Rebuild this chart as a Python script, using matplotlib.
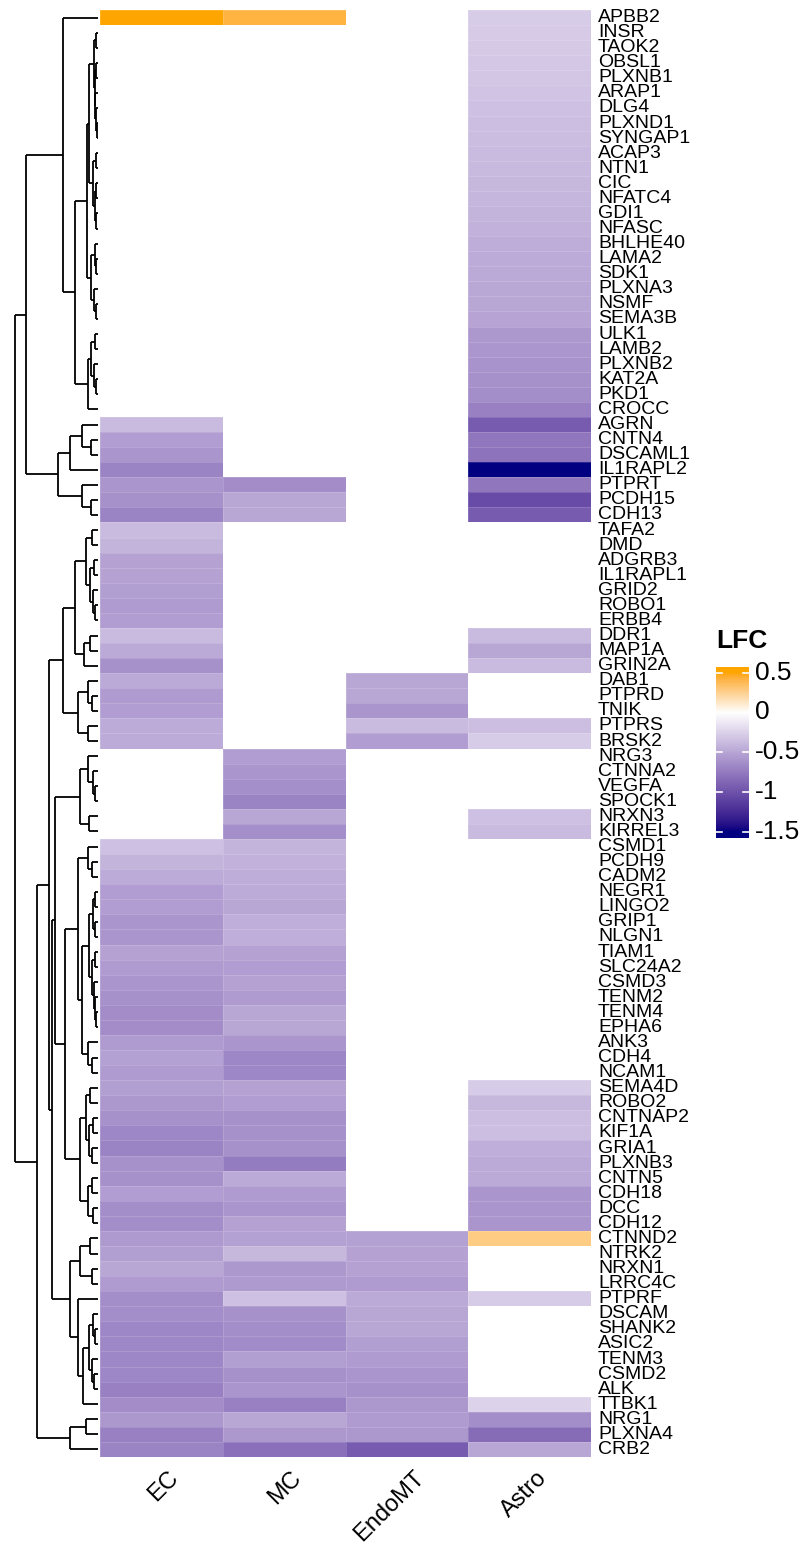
import numpy as np
import matplotlib
matplotlib.use("Agg")
import matplotlib.pyplot as plt
from matplotlib.colors import ListedColormap, Normalize

nan = np.nan

genes = ["APBB2", "INSR", "TAOK2", "OBSL1", "PLXNB1", "ARAP1", "DLG4", "PLXND1",
         "SYNGAP1", "ACAP3", "NTN1", "CIC", "NFATC4", "GDI1", "NFASC", "BHLHE40",
         "LAMA2", "SDK1", "PLXNA3", "NSMF", "SEMA3B", "ULK1", "LAMB2", "PLXNB2",
         "KAT2A", "PKD1", "CROCC", "AGRN", "CNTN4", "DSCAML1", "IL1RAPL2", "PTPRT",
         "PCDH15", "CDH13", "TAFA2", "DMD", "ADGRB3", "IL1RAPL1", "GRID2", "ROBO1",
         "ERBB4", "DDR1", "MAP1A", "GRIN2A", "DAB1", "PTPRD", "TNIK", "PTPRS",
         "BRSK2", "NRG3", "CTNNA2", "VEGFA", "SPOCK1", "NRXN3", "KIRREL3", "CSMD1",
         "PCDH9", "CADM2", "NEGR1", "LINGO2", "GRIP1", "NLGN1", "TIAM1", "SLC24A2",
         "CSMD3", "TENM2", "TENM4", "EPHA6", "ANK3", "CDH4", "NCAM1", "SEMA4D",
         "ROBO2", "CNTNAP2", "KIF1A", "GRIA1", "PLXNB3", "CNTN5", "CDH18", "DCC",
         "CDH12", "CTNND2", "NTRK2", "NRXN1", "LRRC4C", "PTPRF", "DSCAM", "SHANK2",
         "ASIC2", "TENM3", "CSMD2", "ALK", "TTBK1", "NRG1", "PLXNA4", "CRB2"]

cell_types = ["EC", "MC", "EndoMT", "Astro"]

lfc_ec = ([0.5] + [nan] * 26 +
          [-0.38, -0.55, -0.6, -0.7, -0.6, -0.62, -0.7,
           -0.38, -0.42, -0.52, -0.52, -0.54, -0.56, -0.55, -0.38, -0.48, -0.62,
           -0.48, -0.56, -0.55, -0.47, -0.47] + [nan] * 6 +
          [-0.35, -0.42, -0.47, -0.55, -0.55, -0.6, -0.6, -0.52, -0.56, -0.6,
           -0.62, -0.65, -0.65, -0.56, -0.53, -0.56, -0.54, -0.58, -0.62, -0.68,
           -0.7, -0.62, -0.62, -0.55, -0.64, -0.64, -0.57, -0.54, -0.5, -0.56,
           -0.64, -0.64, -0.68, -0.68, -0.68, -0.68, -0.72, -0.65, -0.58, -0.72, -0.7])

lfc_mc = ([0.42] + [nan] * 30 + [-0.65, -0.5, -0.5] + [nan] * 15 +
          [-0.55, -0.6, -0.63, -0.7, -0.5, -0.63,
           -0.42, -0.43, -0.46, -0.47, -0.5, -0.45, -0.45, -0.52, -0.55, -0.52,
           -0.56, -0.5, -0.5, -0.6, -0.68, -0.68, -0.52, -0.55, -0.62, -0.62,
           -0.62, -0.75, -0.48, -0.56, -0.6, -0.52, -0.53, -0.4, -0.58, -0.57,
           -0.35, -0.62, -0.64, -0.66, -0.54, -0.62, -0.6, -0.72, -0.5, -0.58, -0.82])

lfc_endomt = ([nan] * 44 + [-0.5, -0.5, -0.6, -0.38, -0.55] + [nan] * 32 +
              [-0.53, -0.52, -0.52, -0.56, -0.48, -0.5, -0.5, -0.54, -0.56,
               -0.6, -0.62, -0.58, -0.56, -0.58, -0.95])

lfc_astro = ([-0.28, -0.29, -0.3, -0.31, -0.32, -0.33, -0.35, -0.36, -0.37, -0.38,
              -0.39, -0.4, -0.41, -0.42, -0.43, -0.46, -0.47, -0.48, -0.49, -0.5,
              -0.51, -0.58, -0.59, -0.61, -0.62, -0.64, -0.72,
              -0.95, -0.78, -0.8, -1.5, -0.78, -1.05, -0.95] + [nan] * 7 +
             [-0.38, -0.5, -0.38] + [nan] * 3 + [-0.36, -0.28] + [nan] * 4 +
             [-0.35, -0.38] + [nan] * 16 +
             [-0.28, -0.4, -0.36, -0.36, -0.45, -0.48, -0.48, -0.6, -0.6, -0.6,
              0.28] + [nan] * 3 + [-0.28] + [nan] * 6 + [-0.25, -0.64, -0.85, -0.5])

# row dendrogram: [merge height, left, right]
tree = [83,
        [72,
         [35, "APBB2",
          [23,
           [11,
            [9,
             [4, [2, "INSR", "TAOK2"],
              [3, [1.5, "OBSL1", "PLXNB1"], [2.5, "ARAP1", [1.5, "DLG4", [1, "PLXND1", "SYNGAP1"]]]]],
             [5, [2, "ACAP3", "NTN1"], [3, [1.5, "CIC", "NFATC4"], [2, "GDI1", "NFASC"]]]],
            [7, [3, "BHLHE40", [2, "LAMA2", "SDK1"]], [4, "PLXNA3", [2, "NSMF", "SEMA3B"]]]],
           [10, [7, [3, "ULK1", "LAMB2"], [4, "PLXNB2", [2, "KAT2A", "PKD1"]]], "CROCC"]]],
         [40,
          [28, [16, "AGRN", [7, "CNTN4", "DSCAML1"]], "IL1RAPL2"],
          [16, "PTPRT", [7, "PCDH15", "CDH13"]]]],
        [61,
         [49,
          [35,
           [23,
            [12, [6, "TAFA2", "DMD"],
             [8, [4, "ADGRB3", "IL1RAPL1"], [5, "GRID2", [3, "ROBO1", "ERBB4"]]]],
            [14, [8, "DDR1", "MAP1A"], "GRIN2A"]],
           [20, [10, "DAB1", [6, "PTPRD", "TNIK"]], [10, "PTPRS", "BRSK2"]]],
          [46,
           [43,
            [18, [10, "NRG3", [5, "CTNNA2", [3, "VEGFA", "SPOCK1"]]], [9, "NRXN3", "KIRREL3"]],
            [33,
             [20,
              [10, "CSMD1", [6, "PCDH9", "CADM2"]],
              [16,
               [9,
                [5, [3, "NEGR1", "LINGO2"], [3, "GRIP1", "NLGN1"]],
                [6, [3, "TIAM1", "SLC24A2"], [4, "CSMD3", [3, "TENM2", [2, "TENM4", "EPHA6"]]]]],
               [10, "ANK3", [6, "CDH4", "NCAM1"]]]],
             [18,
              [12, [8, "SEMA4D", "ROBO2"], [9, [5, "CNTNAP2", "KIF1A"], [6, "GRIA1", "PLXNB3"]]],
              [10, [6, "CNTN5", "CDH18"], [5, "DCC", "CDH12"]]]]],
           [28,
            [18, [8, "CTNND2", "NTRK2"], [6, "NRXN1", "LRRC4C"]],
            [20, "PTPRF",
             [15, [9, [5, "DSCAM", [3, "SHANK2", "ASIC2"]], [6, "TENM3", [4, "CSMD2", "ALK"]]],
              "TTBK1"]]]]],
         [28, [12, "NRG1", "PLXNA4"], "CRB2"]]]

legend_ticks = [0.5, 0, -0.5, -1, -1.5]

FONT = "Liberation Sans"


# colour ramp like circlize::colorRamp2 (interpolated in LAB)
def to_lab(hexcol):
    c = np.array([int(hexcol[i:i + 2], 16) / 255 for i in (1, 3, 5)])
    lin = np.where(c <= 0.04045, c / 12.92, ((c + 0.055) / 1.055) ** 2.4)
    m = np.array([[0.4124, 0.3576, 0.1805], [0.2126, 0.7152, 0.0722], [0.0193, 0.1192, 0.9505]])
    xyz = m @ lin / np.array([0.95047, 1.0, 1.08883])
    f = np.where(xyz > (6 / 29) ** 3, np.cbrt(xyz), xyz / (3 * (6 / 29) ** 2) + 4 / 29)
    return np.array([116 * f[1] - 16, 500 * (f[0] - f[1]), 200 * (f[1] - f[2])])


def from_lab(lab):
    fy = (lab[..., 0] + 16) / 116
    fx = fy + lab[..., 1] / 500
    fz = fy - lab[..., 2] / 200
    f = np.stack([fx, fy, fz], -1)
    xyz = np.where(f > 6 / 29, f ** 3, 3 * (6 / 29) ** 2 * (f - 4 / 29)) * np.array([0.95047, 1.0, 1.08883])
    m = np.array([[3.2406, -1.5372, -0.4986], [-0.9689, 1.8758, 0.0415], [0.0557, -0.2040, 1.0570]])
    lin = np.clip(xyz @ m.T, 0, 1)
    return np.clip(np.where(lin <= 0.0031308, 12.92 * lin, 1.055 * lin ** (1 / 2.4) - 0.055), 0, 1)


breaks = [-1.5, 0, 0.5]
labs = np.array([to_lab(c) for c in ["#000080", "#FFFFFF", "#FFA500"]])
vals = np.linspace(-1.5, 0.5, 512)
ramp = np.stack([np.interp(vals, breaks, labs[:, k]) for k in range(3)], -1)
cmap = ListedColormap(from_lab(ramp))
cmap.set_bad("white")
norm = Normalize(-1.5, 0.5)

W, H = 809, 1550
fig = plt.figure(figsize=(W / 100, H / 100), dpi=100)


def px_axes(x0, y0, x1, y1):
    return fig.add_axes([x0 / W, 1 - y1 / H, (x1 - x0) / W, (y1 - y0) / H])


# heatmap
ax = px_axes(100, 10, 591, 1457)
mat = np.ma.masked_invalid(np.array([lfc_ec, lfc_mc, lfc_endomt, lfc_astro]).T)
ax.pcolormesh(np.arange(len(cell_types) + 1), np.arange(len(genes) + 1), mat,
              cmap=cmap, norm=norm, edgecolors=(1, 1, 1, 0.15), linewidth=0.4)
ax.set_xlim(0, len(cell_types))
ax.set_ylim(len(genes), 0)
ax.axis("off")

for i, g in enumerate(genes):
    ax.annotate(g, xy=(len(cell_types), i + 0.5), xytext=(7, 0), textcoords="offset pixels",
                ha="left", va="center", fontsize=14, family=FONT)

for j, c in enumerate(cell_types):
    ax.annotate(c, xy=(j + 0.5, len(genes)), xytext=(6, -10), textcoords="offset pixels",
                ha="right", va="top", rotation=45, rotation_mode="anchor",
                fontsize=17, family=FONT)

# dendrogram
dax = px_axes(0, 10, 98, 1457)
dax.set_xlim(98, 0)
dax.set_ylim(len(genes), 0)
dax.axis("off")
pos = {g: i + 0.5 for i, g in enumerate(genes)}


def draw(node):
    if isinstance(node, str):
        return pos[node], 0
    h, left, right = node
    y1, h1 = draw(left)
    y2, h2 = draw(right)
    dax.plot([h, h], [y1, y2], color="black", lw=1.3, solid_capstyle="butt")
    dax.plot([h, h1], [y1, y1], color="black", lw=1.3, solid_capstyle="butt")
    dax.plot([h, h2], [y2, y2], color="black", lw=1.3, solid_capstyle="butt")
    return (y1 + y2) / 2, h


draw(tree)

# legend
lax = px_axes(716, 667, 749, 838)
grad = np.linspace(0.57, -1.58, 300)[:, None]
lax.imshow(grad, cmap=cmap, norm=norm, aspect="auto", extent=(0, 1, -1.58, 0.57))
lax.set_xlim(0, 1)
lax.set_ylim(-1.58, 0.57)
for t in legend_ticks:
    lax.plot([0, 0.18], [t, t], color="white", lw=1.2)
    lax.plot([0.82, 1], [t, t], color="white", lw=1.2)
    lax.annotate("%g" % t, xy=(1, t), xytext=(6, 0), textcoords="offset pixels",
                 ha="left", va="center", fontsize=19, family=FONT)
lax.axis("off")
fig.text(716 / W, 1 - 641 / H, "LFC", fontsize=19, fontweight="bold",
         family=FONT, va="center", ha="left")

fig.savefig("out.png", dpi=100)
